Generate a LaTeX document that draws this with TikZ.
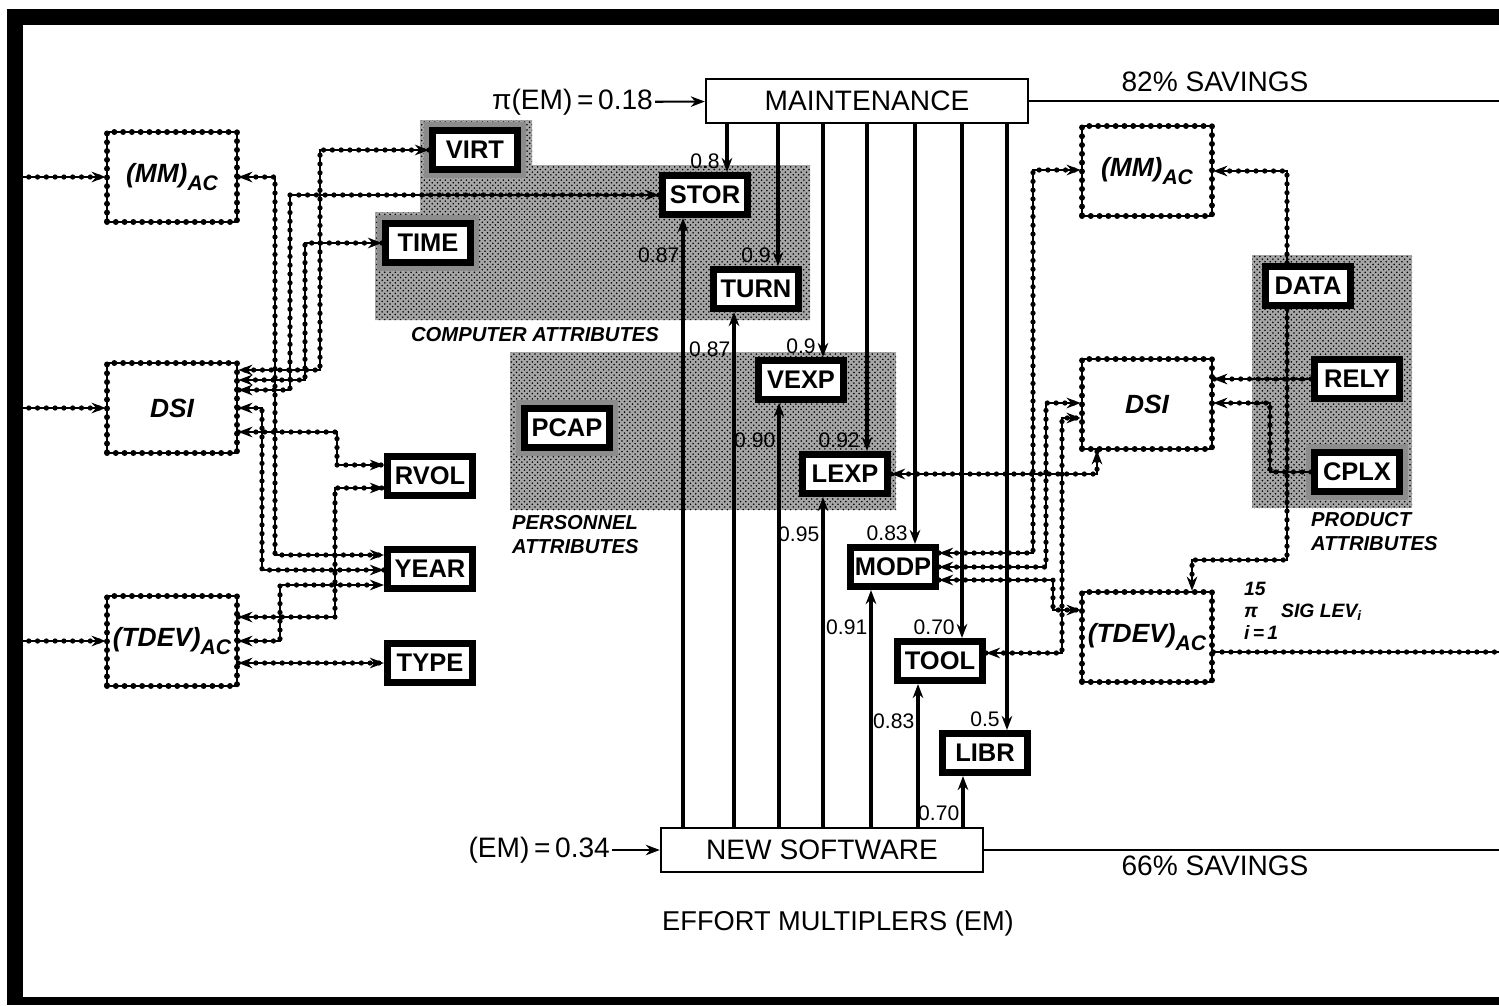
\documentclass[tikz,border=0pt]{standalone}
\usepackage{fontspec}
\setmainfont{Liberation Sans}
\usetikzlibrary{arrows.meta,patterns}

\newcommand{\subAC}{\raisebox{-.55ex}{\fontsize{12}{12}\selectfont AC}}

\tikzset{
  fz/.style={font=\fontsize{#1}{#1}\selectfont},
  embox/.style={draw, line width=1.4pt, fill=white, minimum width=6.44cm,
    minimum height=.88cm, fz=16},
  attr/.style={draw, line width=4pt, fill=white, minimum width=1.7cm,
    minimum height=.78cm, inner sep=0pt, font=\fontsize{14.5}{14.5}\selectfont\bfseries},
  halo/.style={preaction={draw=black!45, line width=10pt}},
  acbox/.style={draw, line width=1.5pt, minimum width=2.6cm, minimum height=1.8cm,
    font=\fontsize{15}{15}\selectfont\bfseries\itshape,
    postaction={draw, line width=3.4pt, line cap=round, dash pattern=on 0pt off 5pt}},
  link/.style={line width=1.4pt, postaction={draw, -, line width=3pt,
    line cap=round, dash pattern=on 0pt off 5pt}},
  emline/.style={line width=2.3pt},
  val/.style={fz=12, inner sep=1pt},
  shade/.style={fill=black!35, postaction={pattern=crosshatch dots}},
  caption/.style={font=\fontsize{11.5}{13.5}\selectfont\bfseries\itshape, align=left},
}

\begin{document}
\begin{tikzpicture}[x=0.02cm, y=-0.02cm, >={Stealth[length=8pt,width=6pt]}]
  \useasboundingbox (0,0) rectangle (1499,1005);
  % frame
  \draw[line width=9pt] (1499,17) -| (15,1005);
  \draw[line width=5pt] (15,1001) -- (1499,1001);
  \coordinate (bar) at (20,0);
  \coordinate (rim) at (1499,0);

  % shaded attribute groups
  \fill[shade] (375,320) -- (375,212) -- (420,212) -- (420,120) -- (532,120)
    -- (532,165) -- (810,165) -- (810,320) -- cycle;
  \fill[shade] (510,352) rectangle (896,510);
  \fill[shade] (1252,255) rectangle (1412,508);
  \node[caption, anchor=north] (compcap) at (535,321) {COMPUTER ATTRIBUTES};
  \node[caption, anchor=north west] (perscap) at (506,509) {PERSONNEL\\ATTRIBUTES};
  \node[caption, anchor=north west] (prodcap) at (1305,506) {PRODUCT\\ATTRIBUTES};

  % effort multipliers
  \node[embox] (maint) at (867,101) {MAINTENANCE};
  \node[embox] (newsw) at (822,850) {NEW SOFTWARE};
  \node[fz=16, anchor=east, inner sep=1pt] (pim) at (655,102) {π(EM)\,=\,0.18};
  \node[fz=16, anchor=east, inner sep=1pt] (emv) at (612,850) {(EM)\,=\,0.34};
  \draw[line width=1.2pt, ->] (pim) -- (maint);
  \draw[line width=1.2pt, ->] (emv) -- (newsw);
  \node[fz=15.5] (emcap) at (838,923) {EFFORT MULTIPLERS (EM)};
  \draw[line width=1.2pt] (maint.east) -- (maint.east -| rim);
  \draw[line width=1.2pt] (newsw.east) -- (newsw.east -| rim);
  \node[fz=16] (sav82) at (1215,82) {82\% SAVINGS};
  \node[fz=16] (sav66) at (1215,866) {66\% SAVINGS};

  % accuracy boxes
  \node[acbox] (mmL) at (172,177) {(MM)\subAC};
  \node[acbox] (dsiL) at (172,408) {DSI};
  \node[acbox] (tdevL) at (172,641) {(TDEV)\subAC};
  \node[acbox] (mmR) at (1147,171) {(MM)\subAC};
  \node[acbox] (dsiR) at (1147,404) {DSI};
  \node[acbox] (tdevR) at (1147,637) {(TDEV)\subAC};

  % cost drivers
  \node[attr, halo] (virt) at (475,150) {VIRT};
  \node[attr, halo] (time) at (428,243) {TIME};
  \node[attr] (stor) at (705,195) {STOR};
  \node[attr] (turn) at (756,289) {TURN};
  \node[attr] (vexp) at (801,380) {VEXP};
  \node[attr] (lexp) at (845,474) {LEXP};
  \node[attr] (modp) at (893,567) {MODP};
  \node[attr] (tool) at (940,661) {TOOL};
  \node[attr] (libr) at (985,753) {LIBR};
  \node[attr, halo] (pcap) at (567,428) {PCAP};
  \node[attr] (rvol) at (430,476) {RVOL};
  \node[attr] (year) at (430,569) {YEAR};
  \node[attr] (type) at (430,663) {TYPE};
  \node[attr] (data) at (1308,286) {DATA};
  \node[attr] (rely) at (1357,379) {RELY};
  \node[attr, halo] (cplx) at (1357,472) {CPLX};

  \foreach \att/\vm/\vn in {stor/0.8/0.87, turn/0.9/0.87, vexp/0.9/0.90,
      lexp/0.92/0.95, modp/0.83/0.91, tool/0.70/0.83, libr/0.5/0.70} {
    \path ([xshift=.44cm]\att.north) coordinate (tipm)
          ([xshift=-.44cm]\att.south) coordinate (tipn);
    \draw[emline, ->] (maint.south -| tipm) -- (tipm)
      node[val, anchor=south east, xshift=-2pt] {\vm};
    \draw[emline, ->] (newsw.north -| tipn) -- (tipn)
      node[val, anchor=east, yshift=-.74cm] {\vn};
  }

  % left side links
  \foreach \ac in {mmL, dsiL, tdevL}
    \draw[link, ->] (bar |- \ac.west) -- (\ac.west);
  \draw[link, <->] (virt.west) -| (320,370) -- (dsiL.east |- 0,370);
  \draw[link, <->] (time.west) -| (305,380) -- (dsiL.east |- 0,380);
  \draw[link, <->] (stor.west) -| (290,390) -- (dsiL.east |- 0,390);
  \draw[link, <->] (mmL.east) -| (275,555) -- (year.west |- 0,555);
  \draw[link, <->] (dsiL.east) -| (262,570) -- (year.west |- 0,570);
  \draw[link, <->] (dsiL.east |- 0,432) -| (337,465) -- (rvol.west |- 0,465);
  \draw[link, <->] (tdevL.east |- 0,617) -| (335,488) -- (rvol.west |- 0,488);
  \draw[link, <->] (tdevL.east) -| (280,585) -- (year.west |- 0,585);
  \draw[link, <->] (tdevL.east |- 0,663) -- (type.west |- 0,663);

  % right side links
  \draw[link, <->] (modp.east |- 0,553) -| (1033,170) -- (mmR.west |- 0,170);
  \draw[link, <->] (modp.east |- 0,567) -| (1046,403) -- (dsiR.west |- 0,403);
  \draw[link, <->] (modp.east |- 0,580) -| (1053,610) -- (tdevR.west |- 0,610);
  \draw[link, <->] (tool.east |- 0,653) -| (1062,418) -- (dsiR.west |- 0,418);
  \draw[link, <->] (lexp.east) -| (1097,0 |- dsiR.south);
  \draw[link, ->] (data.north -| 1287,0) |- (mmR.east);
  \draw[link, ->] (data.south -| 1287,0) |- (1192,560) -- (1192,0 |- tdevR.north);
  \draw[link, ->] (rely.west) -- (dsiR.east |- rely.west);
  \draw[link, ->] (cplx.west) -| (1270,403) -- (dsiR.east |- 0,403);
  \draw[link] (tdevR.east |- 0,652) -- (rim |- 0,652);
  \node[caption, font=\fontsize{11}{12.5}\selectfont\bfseries\itshape, anchor=west]
    (siglev) at (1238,611) {15\\π\hspace{1.2em}SIG LEV\textsubscript{i}\\i\,=\,1};
\end{tikzpicture}
\end{document}
